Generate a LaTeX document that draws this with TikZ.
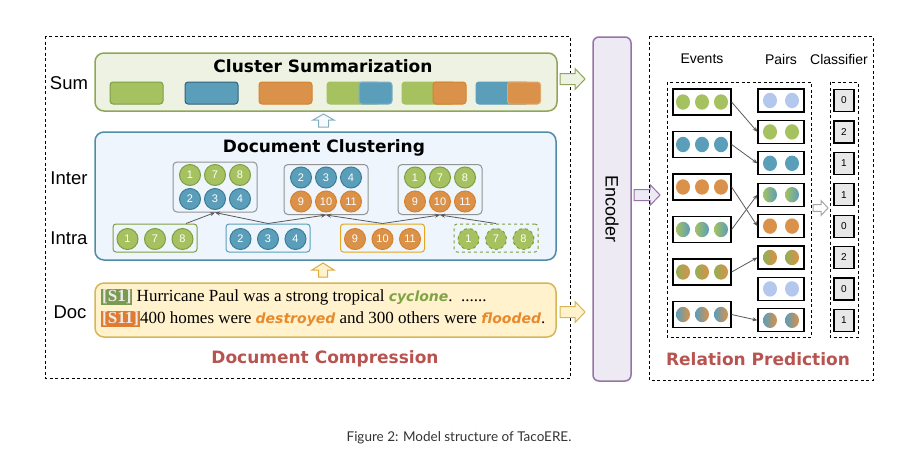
\documentclass[tikz,border=0pt]{standalone}
\usepackage{fontspec}
\setmainfont{Liberation Serif}
\setsansfont{Liberation Sans}
\newfontfamily\titlefont{DejaVu Sans}
\newfontfamily\capfont{Lato}
\usetikzlibrary{arrows.meta, positioning, shapes.geometric, calc}
\definecolor{cgreen}{HTML}{A5C160}
\definecolor{cgreenD}{HTML}{7E9F45}
\definecolor{cblue}{HTML}{5B9EBA}
\definecolor{cblueD}{HTML}{3E7C98}
\definecolor{corange}{HTML}{DA9149}
\definecolor{corangeD}{HTML}{D9822B}
\definecolor{clav}{HTML}{B4C7EC}
\definecolor{ttlred}{HTML}{B85450}
\definecolor{sumfill}{HTML}{EEF2E3}
\definecolor{sumdraw}{HTML}{8FA65A}
\definecolor{clufill}{HTML}{EEF5FC}
\definecolor{cludraw}{HTML}{4F8CA6}
\definecolor{docfill}{HTML}{FFF2CC}
\definecolor{docdraw}{HTML}{D6B656}
\definecolor{encfill}{HTML}{EEEAF4}
\definecolor{encdraw}{HTML}{9673A6}
\definecolor{tagG}{HTML}{7A9A50}
\definecolor{tagO}{HTML}{E07B30}
\definecolor{emG}{HTML}{7FA345}
\definecolor{emO}{HTML}{E8892B}
\newcommand{\sentag}[2]{{\setlength{\fboxsep}{1pt}\colorbox{#1}{\textcolor{white!85!gray}{\bfseries #2}}}}
\newcommand{\evword}[2]{{\color{#1}\titlefont\bfseries\itshape\fontsize{14}{14}\selectfont #2}}
% hollow block arrow: length, head length, shaft half width, head half width
\tikzset{pics/harrow/.style n args={4}{code={
  \path[pic actions] (0,-#3) -- ({#1-#2},-#3) -- ({#1-#2},-#4) -- (#1,0) -- ({#1-#2},#4) -- ({#1-#2},#3) -- (0,#3) -- cycle;}}}

\begin{document}
\begin{tikzpicture}[x=1pt, y=-1pt,
  every node/.style={font=\sffamily},
  lvl/.style={font=\sffamily\fontsize{18.5}{20}\selectfont},
  ttl/.style={font=\titlefont\bfseries\fontsize{17}{20}\selectfont},
  dashbox/.style={dash pattern=on 3pt off 2.5pt, line width=1},
  panel/.style={rounded corners=9, line width=1.5},
  numc/.style={circle, minimum size=21, inner sep=0, line width=1, text=white, font=\sffamily\fontsize{11}{11}\selectfont},
  gnum/.style={numc, fill=cgreen, draw=cgreenD},
  bnum/.style={numc, fill=cblue, draw=cblueD},
  onum/.style={numc, fill=corange, draw=corangeD},
  intergrp/.style={draw=gray!85, rounded corners=4, line width=1, minimum width=84, minimum height=50},
  intragrp/.style={rounded corners=3, line width=1, minimum width=84, minimum height=28},
  sumrect/.style={rounded corners=3, line width=1, minimum height=22, inner sep=0},
  conn/.style={-{Stealth[length=5pt, width=4pt]}, draw=black!65, line width=0.8},
  evbox/.style={draw, line width=1.2, minimum width=58, minimum height=26, inner sep=0},
  prbox/.style={draw, line width=1.2, minimum width=46, minimum height=23, inner sep=0},
  clbox/.style={draw, fill=gray!18, line width=1.2, minimum width=20, minimum height=22, inner sep=0, font=\sffamily\fontsize{10}{10}\selectfont},
  evdot/.style={circle, minimum size=14, inner sep=0, yscale=1.1},
  dG/.style={fill=cgreen}, dB/.style={fill=cblue}, dO/.style={fill=corange}, dL/.style={fill=clav},
  dGB/.style={left color=cgreen, right color=cblue},
  dGO/.style={left color=cgreen!90!black, right color=corange},
  dBO/.style={left color=cblue, right color=corange}]
  \useasboundingbox (0,0) rectangle (912,466);

  % Document compression panel
  \draw[dashbox] (45,36) rectangle (570,378);
  \node[lvl] (lsum) at (69,83) {Sum};
  \node[lvl] (linter) at (69,178) {Inter};
  \node[lvl] (lintra) at (69,238) {Intra};
  \node[lvl] (ldoc) at (70,312) {Doc};

  \node[panel, draw=sumdraw, fill=sumfill, minimum width=462, minimum height=58] (sumbox) at (326,82) {};
  \node[ttl] (sumttl) at (323,66) {Cluster Summarization};
  \node[sumrect, fill=cgreen, draw=cgreenD, minimum width=53] (s1) at (136.5,93) {};
  \node[sumrect, fill=cblue, draw=cblueD!80!black, minimum width=53] (s2) at (211.5,93) {};
  \node[sumrect, fill=corange, draw=corangeD, minimum width=53] (s3) at (285.5,93) {};
  \node[sumrect, fill=cgreen, draw=cgreen, minimum width=53] (s4a) at (353.5,93) {};
  \node[sumrect, fill=cblue, draw=cblue!80, minimum width=33] (s4b) at (375.5,93) {};
  \node[sumrect, fill=cgreen, draw=cgreen, minimum width=53] (s5a) at (428.5,93) {};
  \node[sumrect, fill=corange, draw=corangeD, minimum width=33] (s5b) at (449.5,93) {};
  \node[sumrect, fill=cblue, draw=cblue, minimum width=53] (s6a) at (502.5,93) {};
  \node[sumrect, fill=corange, draw=corange!80, minimum width=33] (s6b) at (524,93) {};

  \pic[draw=cludraw!70, fill=white!60!clufill, line width=1, rotate=90] (upclu) at (323.5,127) {harrow={13}{6}{5}{10.5}};

  \node[panel, draw=cludraw, fill=clufill, minimum width=461, minimum height=128] (clubox) at (325.5,196) {};
  \node[ttl] (cluttl) at (324,148) {Document Clustering};

  % inter-document clusters
  \node[intergrp] (inter1) at (215,187) {};
  \node[intergrp] (inter2) at (326,189.5) {};
  \node[intergrp] (inter3) at (440,189.5) {};
  \foreach \n [count=\i] in {1,7,8} {
    \node[gnum] (i1t\i) at ({215+25*(\i-2)},175) {\n};
    \node[gnum] (i3t\i) at ({440+25*(\i-2)},177.5) {\n};
  }
  \foreach \n [count=\i] in {2,3,4} {
    \node[bnum] (i1b\i) at ({215+25*(\i-2)},199) {\n};
    \node[bnum] (i2t\i) at ({326+25*(\i-2)},177.5) {\n};
  }
  \foreach \n [count=\i] in {9,10,11} {
    \node[onum] (i2b\i) at ({326+25*(\i-2)},201.5) {\n};
    \node[onum] (i3b\i) at ({440+25*(\i-2)},201.5) {\n};
  }

  % intra-document clusters
  \node[intragrp, draw=cgreenD] (intra1) at (155,238) {};
  \node[intragrp, draw=cblue] (intra2) at (268,238) {};
  \node[intragrp, draw=corangeD!70!yellow] (intra3) at (382.5,238) {};
  \node[intragrp, draw=cgreenD, dashed] (intra4) at (496,238) {};
  \foreach \n [count=\i] in {1,7,8} {
    \node[gnum] (a1\i) at ({155+27.5*(\i-2)},239) {\n};
    \node[gnum, dashed] (a4\i) at ({496+27.5*(\i-2)},239) {\n};
  }
  \foreach \n [count=\i] in {2,3,4}
    \node[bnum] (a2\i) at ({268+27.5*(\i-2)},239) {\n};
  \foreach \n [count=\i] in {9,10,11}
    \node[onum] (a3\i) at ({382.5+27.5*(\i-2)},239) {\n};

  \draw[conn] ($(intra1.north)+(31,0)$) -- (inter1.south);
  \draw[conn] (intra2.north) -- (inter1.south);
  \draw[conn] (intra2.north) -- (inter2.south);
  \draw[conn] (intra3.north) -- (inter2.south);
  \draw[conn] (intra3.north) -- (inter3.south);
  \draw[conn] (intra4.north) -- (inter3.south);

  \pic[draw=docdraw!80!orange, fill=docfill, line width=1, rotate=90] (updoc) at (323,277) {harrow={14}{7}{4.5}{11}};

  \node[panel, draw=docdraw, fill=docfill, minimum width=461, minimum height=54] (docbox) at (325.5,310) {};
  \node[anchor=west, align=left, inner sep=0, font=\rmfamily\fontsize{17}{22}\selectfont] (doctxt) at (101,308)
    {\sentag{tagG}{[S1]} Hurricane Paul was a strong tropical \evword{emG}{cyclone}.\ \ ......\\
     \sentag{tagO}{[S11]}400 homes were \evword{emO}{destroyed} and 300 others were \evword{emO}{flooded}.};
  \node[ttl, text=ttlred] (compttl) at (325,359) {Document Compression};

  % encoder
  \pic[draw=sumdraw, fill=sumfill, line width=1] (sumenc) at (560,79) {harrow={25}{10}{5.5}{10.5}};
  \pic[draw=docdraw, fill=docfill, line width=1] (docenc) at (560,312) {harrow={25}{10}{5.5}{10.5}};
  \node[draw=encdraw, fill=encfill, line width=1.5, rounded corners=6, rotate=-90, minimum width=344, minimum height=38,
        font=\sffamily\fontsize{18}{20}\selectfont] (enc) at (612,209) {Encoder};
  \pic[draw=encdraw, fill=encfill, line width=1] (encrel) at (634,195) {harrow={26}{10}{5.5}{10.5}};

  % relation prediction panel
  \draw[dashbox] (649,36) rectangle (873,380);
  \node[font=\sffamily\fontsize{14}{16}\selectfont] (hev) at (702,59) {Events};
  \node[font=\sffamily\fontsize{14}{16}\selectfont] (hpr) at (781,59) {Pairs};
  \node[font=\sffamily\fontsize{14}{16}\selectfont] (hcl) at (839,59) {Classifier};
  \draw[dashbox] (667,82) rectangle (811,337);
  \draw[dashbox] (830,82) rectangle (858,337);

  \foreach \s [count=\i] in {dG,dB,dO,dGB,dGO,dBO} {
    \node[evbox] (ev\i) at (702,{102+42.5*(\i-1)}) {};
    \foreach \k [count=\j] in {-19,0,19}
      \node[evdot,\s] (ev\i d\j) at ({702+\k},{102+42.5*(\i-1)}) {};
  }
  \foreach \s [count=\i] in {dL,dG,dB,dGB,dO,dGO,dL,dBO} {
    \node[prbox] (pr\i) at (781,{100.5+31.4*(\i-1)}) {};
    \foreach \k [count=\j] in {-11,11}
      \node[evdot,\s] (pr\i d\j) at ({781+\k},{100.5+31.4*(\i-1)}) {};
  }
  \foreach \c [count=\i] in {0,2,1,1,0,2,0,1}
    \node[clbox] (cl\i) at (844,{100.5+31.4*(\i-1)}) {\c};

  \draw[conn] (ev1.east) -- (pr2.west);
  \draw[conn] (ev2.east) -- (pr3.west);
  \draw[conn] (ev3.east) -- (pr5.west);
  \draw[conn] (ev4.east) -- (pr4.west);
  \draw[conn] (ev5.east) -- (pr6.west);
  \draw[conn] (ev6.east) -- (pr8.west);
  \pic[draw=gray!70, fill=white, line width=1] (prcl) at (813,208) {harrow={15}{7}{3.3}{7.5}};

  \node[ttl, text=ttlred] (relttl) at (758,359) {Relation Prediction};

  \node[font=\capfont\fontsize{13.5}{15}\selectfont, text=black!80] (cap) at (459,438) {Figure 2: Model structure of TacoERE.};
\end{tikzpicture}
\end{document}
